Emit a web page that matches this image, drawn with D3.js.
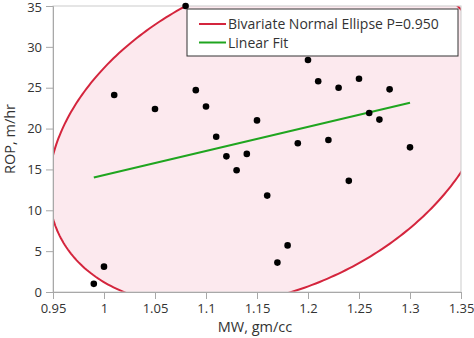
<!DOCTYPE html>
<html>
<head>
<meta charset="utf-8">
<script src="https://cdn.jsdelivr.net/npm/d3@7"></script>
<style>
  body { margin: 0; background: #fff; }
  svg text { font-family: "Open Sans", "Noto Sans", sans-serif; fill: #333; }
</style>
</head>
<body>
<div id="chart"></div>
<script>
// MW (gm/cc) vs ROP (m/hr) samples; one of them sits behind the legend box
const mw  = [0.99, 1.00, 1.01, 1.05, 1.08, 1.09, 1.10, 1.11, 1.12, 1.13, 1.14, 1.15, 1.16,
             1.17, 1.18, 1.19, 1.20, 1.21, 1.22, 1.23, 1.24, 1.25, 1.26, 1.26, 1.27, 1.28, 1.30];
const rop = [1.0, 3.1, 24.1, 22.4, 35.0, 24.7, 22.7, 19.0, 16.6, 14.9, 16.9, 21.0, 11.8,
             3.6, 5.7, 18.2, 28.4, 25.8, 18.6, 25.0, 13.6, 26.1, 21.9, 32.0, 21.1, 24.8, 17.7];

const xTicks = [0.95, 1, 1.05, 1.1, 1.15, 1.2, 1.25, 1.3, 1.35];
const yTicks = [0, 5, 10, 15, 20, 25, 30, 35];
const ellipseP = 0.95;
const legendItems = ['Bivariate Normal Ellipse P=0.950', 'Linear Fit'];

const width = 474, height = 338;
const margin = {top: 6, right: 13, bottom: 46, left: 53};
const RED = '#d4253d', GREEN = '#1fa51f';

const svg = d3.select('#chart').append('svg')
  .attr('width', width)
  .attr('height', height);

const x = d3.scaleLinear().domain([0.95, 1.35]).range([margin.left, width - margin.right]);
const y = d3.scaleLinear().domain([0, 35]).range([height - margin.bottom, margin.top]);
const plotW = x.range()[1] - margin.left;
const plotH = y.range()[0] - margin.top;

svg.append('clipPath').attr('id', 'plot-clip')
  .append('rect')
    .attr('x', margin.left).attr('y', margin.top)
    .attr('width', plotW).attr('height', plotH);

// density ellipse from sample mean / covariance
const n = mw.length;
const mx = d3.mean(mw), my = d3.mean(rop);
let sxx = 0, syy = 0, sxy = 0;
for (let i = 0; i < n; i++) {
  const dx = mw[i] - mx, dy = rop[i] - my;
  sxx += dx * dx; syy += dy * dy; sxy += dx * dy;
}
sxx /= (n - 1); syy /= (n - 1); sxy /= (n - 1);
const c = Math.sqrt(-2 * Math.log(1 - ellipseP));
const sx = Math.sqrt(sxx), sy = Math.sqrt(syy), r = sxy / (sx * sy);
const ellipsePts = d3.range(0, 361).map(deg => {
  const t = deg * Math.PI / 180;
  // cholesky form of the covariance
  const u = Math.cos(t), v = Math.sin(t);
  return [mx + c * sx * u, my + c * sy * (r * u + Math.sqrt(1 - r * r) * v)];
});

const plot = svg.append('g').attr('clip-path', 'url(#plot-clip)');
plot.append('path')
  .datum(ellipsePts)
  .attr('d', d3.line().x(d => x(d[0])).y(d => y(d[1])))
  .attr('fill', '#fce9ee')
  .attr('stroke', RED)
  .attr('stroke-width', 2);

// least squares fit over the MW range
const slope = sxy / sxx;
const icpt = my - slope * mx;
const fitX = d3.extent(mw);
plot.append('line')
  .attr('x1', x(fitX[0])).attr('y1', y(icpt + slope * fitX[0]))
  .attr('x2', x(fitX[1])).attr('y2', y(icpt + slope * fitX[1]))
  .attr('stroke', GREEN)
  .attr('stroke-width', 2);

// frame
svg.append('rect')
  .attr('x', margin.left).attr('y', margin.top)
  .attr('width', plotW).attr('height', plotH)
  .attr('fill', 'none')
  .attr('stroke', '#cbcbcb');

const xAxis = svg.append('g')
  .attr('transform', `translate(0,${y.range()[0]})`)
  .call(d3.axisBottom(x).tickValues(xTicks).tickSize(7).tickPadding(5).tickFormat(d3.format('')));
const yAxis = svg.append('g')
  .attr('transform', `translate(${margin.left},0)`)
  .call(d3.axisLeft(y).tickValues(yTicks).tickSize(7).tickPadding(4));
[xAxis, yAxis].forEach(g => {
  g.selectAll('.domain, line').attr('stroke', '#a8a8a8');
  g.selectAll('text').attr('font-size', 13).attr('fill', '#333');
});
// keep the top label inside the page
yAxis.selectAll('.tick text').filter(d => d === 35).attr('dy', '0.45em');

svg.selectAll('circle.pt')
  .data(mw.map((d, i) => [d, rop[i]]))
  .join('circle')
    .attr('class', 'pt')
    .attr('cx', d => x(d[0]))
    .attr('cy', d => y(d[1]))
    .attr('r', 3.3)
    .attr('fill', '#000');

svg.append('text')
  .attr('x', 255)
  .attr('y', 332)
  .attr('text-anchor', 'middle')
  .attr('font-size', 14.5)
  .text('MW, gm/cc');
svg.append('text')
  .attr('transform', 'translate(15,139) rotate(-90)')
  .attr('text-anchor', 'middle')
  .attr('font-size', 14.5)
  .text('ROP, m/hr');

// legend
const legend = svg.append('g').attr('transform', 'translate(187,9)');
legend.append('rect')
  .attr('width', 271).attr('height', 47)
  .attr('fill', '#fff')
  .attr('stroke', '#333');
legendItems.forEach((label, i) => {
  const yy = 15 + i * 18.5;
  legend.append('line')
    .attr('x1', 12).attr('x2', 39).attr('y1', yy).attr('y2', yy)
    .attr('stroke', [RED, GREEN][i]).attr('stroke-width', 2);
  legend.append('text')
    .attr('x', 41).attr('y', yy + 5)
    .attr('font-size', 14)
    .text(label);
});
</script>
</body>
</html>
